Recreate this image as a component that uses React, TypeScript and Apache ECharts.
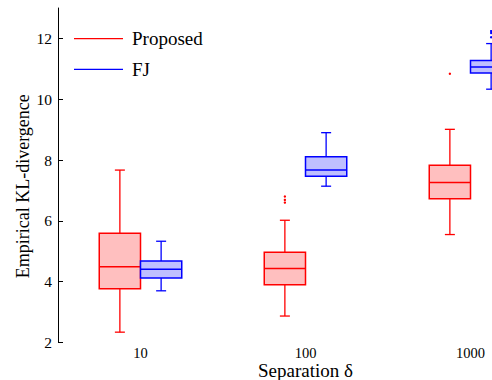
import React, { useEffect, useRef } from 'react';
import * as echarts from 'echarts';

const categories = ['10', '100', '1000'];
// [min, Q1, median, Q3, max]
const proposedBoxes = [
  [2.34, 3.77, 4.49, 5.59, 7.67],
  [2.87, 3.9, 4.43, 4.97, 6.02],
  [5.55, 6.73, 7.26, 7.83, 9.01],
];
const fjBoxes = [
  [3.7, 4.12, 4.41, 4.68, 5.33],
  [7.14, 7.47, 7.67, 8.11, 8.9],
  [10.33, 10.86, 11.06, 11.27, 11.83],
];
const proposedOutliers = [
  [1, 6.6],
  [1, 6.69],
  [1, 6.8],
  [2, 10.84],
];
const fjOutliers = [
  [2, 12.04],
  [2, 12.18],
  [2, 12.24],
];
const yTicks = [2, 4, 6, 8, 10, 12];

const FONT = 'Liberation Serif';

function boxRenderer(stroke: string, fill: string, side: number) {
  return (params: any, api: any) => {
    const xi = api.value(0);
    const band = api.size([1, 0])[0];
    const w = band * 0.25;
    const base = api.coord([xi, api.value(3)]);
    const cx = base[0] + (side * w) / 2;
    const y = (i: number) => api.coord([xi, api.value(i)])[1];
    const yMin = y(1), yQ1 = y(2), yMed = y(3), yQ3 = y(4), yMax = y(5);
    const cap = 10;
    const ls = { stroke, lineWidth: 1.3 };
    return {
      type: 'group',
      children: [
        { type: 'line', shape: { x1: cx, y1: yMax, x2: cx, y2: yQ3 }, style: ls },
        { type: 'line', shape: { x1: cx, y1: yQ1, x2: cx, y2: yMin }, style: ls },
        { type: 'line', shape: { x1: cx - cap / 2, y1: yMax, x2: cx + cap / 2, y2: yMax }, style: ls },
        { type: 'line', shape: { x1: cx - cap / 2, y1: yMin, x2: cx + cap / 2, y2: yMin }, style: ls },
        {
          type: 'rect',
          shape: { x: cx - w / 2, y: yQ3, width: w, height: yQ1 - yQ3 },
          style: { fill, stroke, lineWidth: 1.5 },
        },
        { type: 'line', shape: { x1: cx - w / 2, y1: yMed, x2: cx + w / 2, y2: yMed }, style: { stroke, lineWidth: 1.5 } },
      ],
    };
  };
}

function outlierRenderer(color: string, side: number) {
  return (params: any, api: any) => {
    const xi = api.value(0);
    const band = api.size([1, 0])[0];
    const p = api.coord([xi, api.value(1)]);
    return {
      type: 'circle',
      shape: { cx: p[0] + (side * band) / 8, cy: p[1], r: 1.2 },
      style: { fill: color },
    };
  };
}

export default function App() {
  const ref = useRef<HTMLDivElement>(null);
  useEffect(() => {
    if (!ref.current) return;
    const chart = echarts.init(ref.current, undefined, { renderer: 'svg' });
    chart.setOption({
      animation: false,
      backgroundColor: '#ffffff',
      grid: { left: 58, top: 8, width: 495, height: 334.5, outerBoundsMode: 'none', containLabel: false },
      xAxis: {
        type: 'category',
        data: categories,
        axisLine: { show: false },
        axisTick: { show: false },
        axisLabel: { color: '#000', fontFamily: FONT, fontSize: 14.5, margin: 3, lineHeight: 14 },
        name: 'Separation δ',
        nameLocation: 'middle',
        nameGap: 18.5,
        nameMoveOverlap: false,
        nameTextStyle: { color: '#000', fontFamily: FONT, fontSize: 19, lineHeight: 19 },
      },
      yAxis: {
        type: 'value',
        min: 2,
        max: 13,
        interval: 2,
        axisLine: { show: true, lineStyle: { color: '#000', width: 1 } },
        axisTick: { show: true, inside: true, length: 5, lineStyle: { color: '#000' }, customValues: yTicks },
        axisLabel: { color: '#000', fontFamily: FONT, fontSize: 15.5, margin: 6, customValues: yTicks },
        splitLine: { show: false },
        name: 'Empirical KL-divergence',
        nameLocation: 'middle',
        nameGap: 26,
        nameMoveOverlap: false,
        nameTextStyle: { color: '#000', fontFamily: FONT, fontSize: 18, padding: [0, 22, 0, 0] },
      },
      graphic: [
        { type: 'line', shape: { x1: 74, y1: 38.7, x2: 123, y2: 38.7 }, style: { stroke: '#ff0000', lineWidth: 1.3 } },
        { type: 'text', x: 132, y: 38.7, style: { text: 'Proposed', font: `19px ${FONT}`, fill: '#000', verticalAlign: 'middle' } },
        { type: 'line', shape: { x1: 74, y1: 69.3, x2: 123, y2: 69.3 }, style: { stroke: '#0000ff', lineWidth: 1.3 } },
        { type: 'text', x: 132, y: 69.3, style: { text: 'FJ', font: `19px ${FONT}`, fill: '#000', verticalAlign: 'middle' } },
      ],
      series: [
        {
          name: 'Proposed',
          type: 'custom',
          renderItem: boxRenderer('#ff0000', '#ffbfbf', -1),
          encode: { x: 0, y: [1, 2, 3, 4, 5] },
          data: proposedBoxes.map((b, i) => [i, ...b]),
          itemStyle: { color: '#ff0000' },
        },
        {
          name: 'FJ',
          type: 'custom',
          renderItem: boxRenderer('#0000ff', '#bfbfff', 1),
          encode: { x: 0, y: [1, 2, 3, 4, 5] },
          data: fjBoxes.map((b, i) => [i, ...b]),
          itemStyle: { color: '#0000ff' },
        },
        {
          name: 'Proposed outliers',
          type: 'custom',
          renderItem: outlierRenderer('#ff0000', -1),
          encode: { x: 0, y: 1 },
          data: proposedOutliers,
        },
        {
          name: 'FJ outliers',
          type: 'custom',
          renderItem: outlierRenderer('#0000ff', 1),
          encode: { x: 0, y: 1 },
          data: fjOutliers,
        },
      ],
    });
    return () => chart.dispose();
  }, []);
  return (
    <div
      ref={ref}
      style={{ position: 'absolute', left: 0, top: 0, width: 492, height: 380, background: '#fff' }}
    />
  );
}
